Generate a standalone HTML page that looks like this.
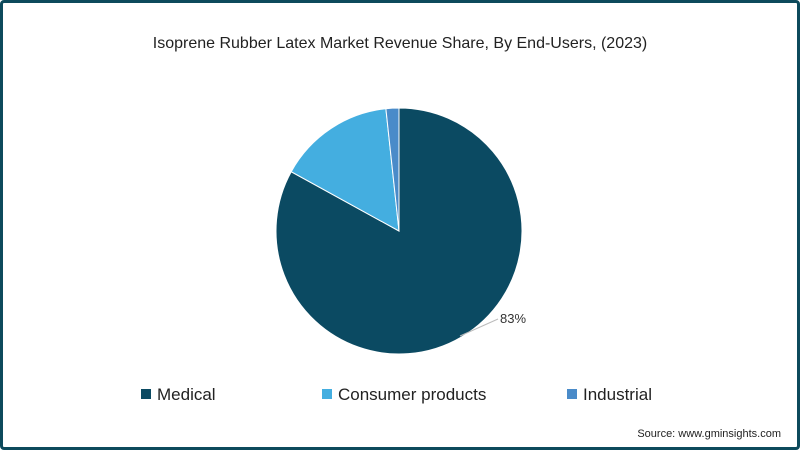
<!DOCTYPE html>
<html><head><meta charset="utf-8"><style>
body{margin:0;width:800px;height:450px;overflow:hidden;background:#fff;font-family:"Liberation Sans",sans-serif}
#frame{position:absolute;left:0;top:0;width:794px;height:444px;border:3px solid #0d4a5c;border-radius:4px;background:#fff}
</style></head><body>
<div id="frame"></div>
<svg width="800" height="450" style="position:absolute;left:0;top:0">
<text x="400" y="48" text-anchor="middle" font-size="16" fill="#222">Isoprene Rubber Latex Market Revenue Share, By End-Users, (2023)</text>
<g id="slices"></g>
<line x1="460" y1="336" x2="498" y2="319" stroke="#bbb" stroke-width="1"/>
<text x="500" y="323" font-size="13" fill="#333" id="lbl">83%</text>
<g>
<rect x="141" y="389" width="10" height="10" fill="#0b4a62"/>
<text x="157" y="400" font-size="17" fill="#222">Medical</text>
<rect x="322" y="389" width="10" height="10" fill="#44aee0"/>
<text x="338" y="400" font-size="17" fill="#222">Consumer products</text>
<rect x="567" y="389" width="10" height="10" fill="#4a8bc9"/>
<text x="583" y="400" font-size="17" fill="#222">Industrial</text>
</g>
<text x="781" y="437" text-anchor="end" font-size="11" fill="#222">Source: www.gminsights.com</text>
</svg>
<script>
const categories=["Medical","Consumer products","Industrial"];
const shares=[83,15.3,1.7];
const colors=["#0b4a62","#44aee0","#4a8bc9"];
const cx=399,cy=231,r=123;
const g=document.getElementById('slices');
const total=shares.reduce((a,b)=>a+b,0);
let a0=0;
function pt(a){return [cx+r*Math.sin(a),cy-r*Math.cos(a)];}
shares.forEach((v,i)=>{
  const a1=a0+v/total*2*Math.PI;
  const p0=pt(a0),p1=pt(a1);
  const large=(a1-a0)>Math.PI?1:0;
  const p=document.createElementNS('http://www.w3.org/2000/svg','path');
  p.setAttribute('d',`M${cx},${cy}L${p0[0]},${p0[1]}A${r},${r} 0 ${large} 1 ${p1[0]},${p1[1]}Z`);
  p.setAttribute('fill',colors[i]);
  p.setAttribute('stroke','#fff');
  p.setAttribute('stroke-width','1');
  
  
  g.appendChild(p);
  a0=a1;
});
document.getElementById('lbl').textContent=Math.round(shares[0])+'%';
</script>
</body></html>
